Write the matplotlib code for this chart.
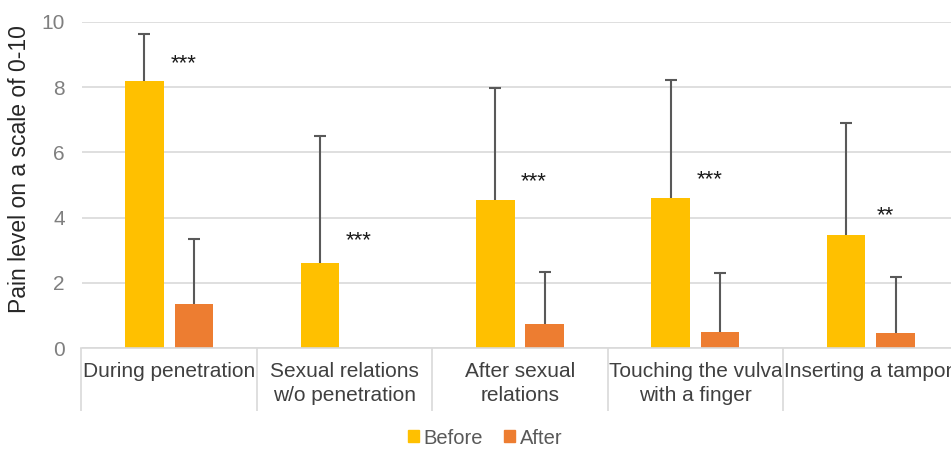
import numpy as np
import matplotlib
matplotlib.use("Agg")
import matplotlib.pyplot as plt
from matplotlib.patches import Patch

categories = [
    "During penetration",
    "Sexual relations\nw/o penetration",
    "After sexual\nrelations",
    "Touching the vulva\nwith a finger",
    "Inserting a tampon",
]
before = [8.19, 2.60, 4.54, 4.61, 3.47]
before_err = [1.43, 3.91, 3.44, 3.60, 3.43]
after = [1.35, np.nan, 0.74, 0.51, 0.47]
after_err = [2.01, np.nan, 1.60, 1.80, 1.70]
sig = ["***", "***", "***", "***", "**"]
sig_y = [8.8, 3.38, 5.18, 5.24, 4.14]

plt.rcParams["font.family"] = ["Liberation Sans", "DejaVu Sans"]

YELLOW = "#FFC000"
ORANGE = "#ED7D31"
GRID = "#D9D9D9"
ERR = "#595959"

fig = plt.figure(figsize=(9.51, 4.51), dpi=100)
ax = fig.add_axes([81.5 / 951, 102.7 / 451, 877 / 951, 326.6 / 451])

x = np.arange(len(categories))
w = 0.22
off = 0.141


def upper_errorbar(xs, ys, errs):
    # one-sided error bars: hide the lower cap
    _, caps, _ = ax.errorbar(xs, ys, yerr=[np.zeros(len(xs)), errs], fmt="none",
                             ecolor=ERR, elinewidth=1.5, capsize=4.3, capthick=1.5,
                             zorder=3)
    caps[0].set_visible(False)


ax.bar(x - off, before, w, color=YELLOW, zorder=2)
upper_errorbar(x - off, before, before_err)
ax.bar(x + off, after, w, color=ORANGE, zorder=2)
upper_errorbar(x + off, after, after_err)

for xi, s, sy in zip(x, sig, sig_y):
    ax.text(xi + 0.08, sy - 0.08, s, ha="center", va="center", fontsize=16, color="#1A1A1A")

ax.set_xlim(-0.5, len(categories) - 0.5)
ax.set_ylim(0, 10)
ax.set_yticks(range(0, 11, 2))
ax.yaxis.grid(True, color=GRID, linewidth=1.2, zorder=0)
ax.set_axisbelow(True)

for side in ["top", "right", "left"]:
    ax.spines[side].set_visible(False)
ax.spines["bottom"].set_color(GRID)
ax.spines["bottom"].set_linewidth(1.2)

ax.set_xticks(x)
ax.set_xticklabels(categories, fontsize=15, color="#404040", linespacing=1.35)
ax.set_xticks(np.arange(-0.5, len(categories)), minor=True)
ax.tick_params(axis="x", which="major", length=0, pad=10)
ax.tick_params(axis="x", which="minor", length=45, width=1.2, color=GRID)
ax.tick_params(axis="y", length=0, pad=12, labelsize=15, labelcolor="#7F7F7F")

ax.set_ylabel("Pain level on a scale of 0-10", fontsize=16.5, color="#262626")
ax.yaxis.set_label_coords(-0.058, 0.549)

handles = [Patch(color=YELLOW, label="Before"), Patch(color=ORANGE, label="After")]
fig.legend(handles=handles, loc="center", bbox_to_anchor=(485 / 951, 1 - 438 / 451),
           ncol=2, frameon=False, fontsize=14.5, labelcolor="#595959",
           handlelength=0.55, handleheight=0.55, handletextpad=0.25, columnspacing=1.0)

fig.savefig("out.png", dpi=100)
